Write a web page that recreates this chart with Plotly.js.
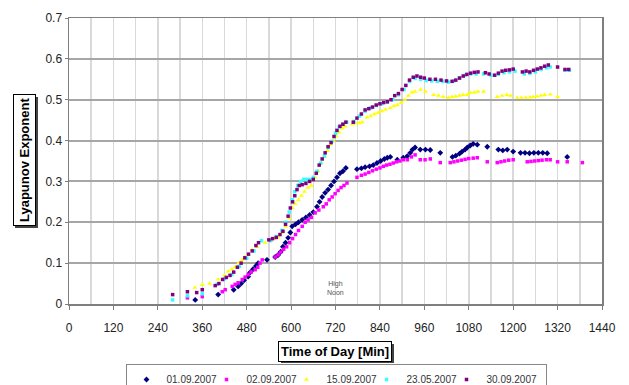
<!DOCTYPE html>
<html>
<head>
<meta charset="utf-8">
<script src="https://cdn.plot.ly/plotly-3.0.1.min.js"></script>
<style>html,body{margin:0;padding:0;background:#fff;}#chart{width:629px;height:385px;}</style>
</head>
<body>
<div id="chart"></div>
<script>
// ---- data ----
const seriesNames = ["01.09.2007", "02.09.2007", "15.09.2007", "23.05.2007", "30.09.2007"];

const x0109 = [341, 403, 445, 457, 465, 473, 484, 489, 497, 505, 511, 535, 557, 565, 572, 578, 585, 592, 598, 603, 612, 620, 630, 640, 650, 660, 670, 677, 684, 692, 700, 708, 716, 724, 732, 740, 748, 778, 790, 800, 812, 822, 832, 842, 852, 860, 868, 887, 903, 914, 922, 928, 935, 949, 963, 976, 1003, 1036, 1045, 1055, 1062, 1070, 1076, 1084, 1092, 1103, 1130, 1160, 1172, 1184, 1200, 1220, 1232, 1244, 1256, 1268, 1280, 1292, 1346];
const y0109 = [0.01, 0.023, 0.035, 0.043, 0.05, 0.058, 0.067, 0.077, 0.085, 0.093, 0.1, 0.108, 0.115, 0.12, 0.128, 0.14, 0.15, 0.162, 0.175, 0.19, 0.195, 0.2, 0.206, 0.212, 0.218, 0.225, 0.238, 0.25, 0.262, 0.272, 0.28, 0.29, 0.3, 0.31, 0.32, 0.325, 0.333, 0.33, 0.332, 0.335, 0.337, 0.34, 0.345, 0.35, 0.355, 0.358, 0.36, 0.353, 0.358, 0.362, 0.37, 0.378, 0.383, 0.378, 0.378, 0.377, 0.37, 0.36, 0.363, 0.368, 0.373, 0.378, 0.383, 0.388, 0.392, 0.39, 0.385, 0.378, 0.376, 0.378, 0.373, 0.37, 0.37, 0.369, 0.37, 0.37, 0.37, 0.369, 0.36];

const x0209 = [320, 360, 414, 422, 441, 449, 457, 468, 476, 484, 492, 503, 510, 516, 522, 557, 565, 572, 580, 588, 596, 604, 612, 620, 630, 638, 646, 655, 665, 675, 687, 695, 703, 711, 719, 727, 735, 743, 751, 778, 790, 800, 810, 820, 830, 840, 849, 858, 867, 876, 885, 894, 903, 914, 925, 935, 949, 962, 976, 1003, 1030, 1040, 1050, 1060, 1070, 1080, 1092, 1103, 1130, 1157, 1167, 1177, 1188, 1200, 1238, 1248, 1258, 1268, 1278, 1290, 1300, 1320, 1346, 1387];
const y0209 = [0.015, 0.018, 0.03, 0.035, 0.043, 0.048, 0.052, 0.06, 0.066, 0.072, 0.078, 0.084, 0.09, 0.1, 0.108, 0.115, 0.12, 0.127, 0.134, 0.14, 0.15, 0.16, 0.17, 0.18, 0.19, 0.2, 0.206, 0.212, 0.223, 0.23, 0.238, 0.245, 0.255, 0.262, 0.27, 0.278, 0.285, 0.29, 0.296, 0.31, 0.315, 0.318, 0.322, 0.326, 0.33, 0.333, 0.337, 0.34, 0.342, 0.345, 0.348, 0.35, 0.353, 0.353, 0.36, 0.365, 0.353, 0.353, 0.355, 0.346, 0.346, 0.348, 0.35, 0.352, 0.354, 0.356, 0.357, 0.358, 0.348, 0.346, 0.348, 0.35, 0.352, 0.353, 0.348, 0.349, 0.35, 0.351, 0.352, 0.353, 0.353, 0.348, 0.348, 0.346];

const x1509 = [340, 360, 380, 403, 420, 430, 440, 449, 458, 468, 476, 484, 495, 508, 530, 545, 555, 565, 576, 585, 595, 603, 611, 620, 628, 636, 646, 655, 665, 673, 682, 690, 698, 706, 714, 722, 730, 738, 746, 765, 775, 785, 792, 805, 815, 825, 835, 845, 855, 868, 878, 887, 897, 907, 917, 927, 935, 950, 963, 985, 998, 1011, 1025, 1035, 1045, 1055, 1065, 1076, 1084, 1095, 1105, 1120, 1157, 1170, 1183, 1193, 1211, 1222, 1234, 1246, 1254, 1265, 1275, 1285, 1300, 1320];
const y1509 = [0.04, 0.047, 0.05, 0.06, 0.07, 0.08, 0.085, 0.09, 0.1, 0.108, 0.115, 0.12, 0.133, 0.14, 0.15, 0.155, 0.16, 0.163, 0.175, 0.19, 0.21, 0.235, 0.245, 0.255, 0.265, 0.275, 0.285, 0.29, 0.31, 0.325, 0.345, 0.36, 0.375, 0.39, 0.4, 0.41, 0.42, 0.43, 0.435, 0.44, 0.442, 0.443, 0.445, 0.457, 0.46, 0.465, 0.468, 0.472, 0.476, 0.48, 0.485, 0.487, 0.492, 0.5, 0.51, 0.518, 0.52, 0.525, 0.52, 0.512, 0.51, 0.507, 0.505, 0.507, 0.508, 0.51, 0.512, 0.512, 0.517, 0.518, 0.52, 0.52, 0.507, 0.51, 0.512, 0.51, 0.505, 0.505, 0.505, 0.506, 0.507, 0.508, 0.51, 0.512, 0.513, 0.507];

const x2305 = [280, 320, 360, 400, 420, 440, 460, 480, 500, 520, 545, 560, 575, 585, 595, 603, 610, 618, 626, 634, 642, 650, 660, 670, 680, 690, 700, 710, 720, 730, 740, 750, 770, 785, 800, 815, 830, 845, 860, 875, 890, 905, 920, 935, 950, 965, 980, 995, 1010, 1025, 1040, 1055, 1070, 1085, 1100, 1120, 1140, 1160, 1175, 1190, 1205, 1230, 1245, 1260, 1275, 1290, 1300, 1340, 1352];
const y2305 = [0.01, 0.02, 0.025, 0.048, 0.062, 0.072, 0.092, 0.112, 0.13, 0.155, 0.155, 0.165, 0.18, 0.2, 0.225, 0.255, 0.275, 0.29, 0.3, 0.305, 0.305, 0.305, 0.31, 0.325, 0.345, 0.362, 0.383, 0.398, 0.418, 0.433, 0.44, 0.445, 0.447, 0.46, 0.472, 0.48, 0.486, 0.49, 0.494, 0.5, 0.512, 0.525, 0.545, 0.552, 0.55, 0.547, 0.546, 0.545, 0.545, 0.543, 0.546, 0.553, 0.56, 0.563, 0.563, 0.563, 0.56, 0.562, 0.566, 0.568, 0.57, 0.563, 0.565, 0.568, 0.574, 0.578, 0.58, 0.572, 0.572];

const x3009 = [280, 320, 345, 360, 395, 405, 415, 425, 435, 445, 455, 465, 475, 485, 495, 505, 512, 540, 550, 560, 570, 578, 585, 592, 598, 604, 610, 616, 622, 630, 640, 650, 660, 668, 676, 684, 692, 700, 708, 716, 724, 732, 740, 748, 768, 778, 790, 800, 810, 820, 830, 840, 850, 860, 870, 880, 890, 900, 910, 920, 930, 940, 950, 960, 975, 990, 1005, 1020, 1035, 1045, 1055, 1065, 1075, 1085, 1095, 1105, 1125, 1135, 1150, 1160, 1170, 1180, 1190, 1200, 1225, 1235, 1245, 1255, 1265, 1275, 1285, 1295, 1320, 1340, 1350];
const y3009 = [0.023, 0.03, 0.028, 0.035, 0.045, 0.05, 0.06, 0.065, 0.07, 0.078, 0.09, 0.1, 0.113, 0.122, 0.13, 0.143, 0.15, 0.157, 0.16, 0.163, 0.17, 0.178, 0.195, 0.215, 0.235, 0.25, 0.265, 0.28, 0.29, 0.292, 0.295, 0.3, 0.305, 0.32, 0.34, 0.355, 0.37, 0.385, 0.395, 0.41, 0.425, 0.435, 0.44, 0.445, 0.445, 0.455, 0.465, 0.475, 0.478, 0.482, 0.487, 0.49, 0.493, 0.495, 0.5, 0.51, 0.515, 0.525, 0.535, 0.548, 0.555, 0.558, 0.555, 0.553, 0.55, 0.55, 0.548, 0.546, 0.545, 0.548, 0.553, 0.558, 0.562, 0.565, 0.567, 0.568, 0.566, 0.563, 0.56, 0.565, 0.57, 0.572, 0.573, 0.575, 0.568, 0.57, 0.568, 0.572, 0.575, 0.578, 0.582, 0.585, 0.58, 0.574, 0.574];

const xTicks = [0, 120, 240, 360, 480, 600, 720, 840, 960, 1080, 1200, 1320, 1440];
const yTicks = [0, 0.1, 0.2, 0.3, 0.4, 0.5, 0.6, 0.7];

// ---- traces ----
const styles = [
  {color: "#000080", symbol: "diamond", size: 4.5},
  {color: "#ff00ff", symbol: "square", size: 3.5},
  {color: "#ffff00", symbol: "triangle-up", size: 4.5},
  {color: "#33ffff", symbol: "square", size: 3.5},
  {color: "#800080", symbol: "square", size: 3.5}
];
const xs = [x0109, x0209, x1509, x2305, x3009];
const ys = [y0109, y0209, y1509, y2305, y3009];
const traces = seriesNames.map((n, i) => {
  const t = {
    type: "scatter", mode: "markers", name: n,
    x: xs[i], y: ys[i],
    marker: {color: styles[i].color, symbol: styles[i].symbol, size: styles[i].size, line: {width: 0}},
    hoverinfo: "x+y"
  };
  if (i === seriesNames.length - 1) t.legendwidth = 54;
  return t;
});

const FONT = "Liberation Sans, Arial, sans-serif";
const L = 69, R = 27, T = 18, B = 81, W = 629, H = 385;
const pw = W - L - R, ph = H - T - B;
function px2paperX(p) { return (p - L) / pw; }
function px2paperY(p) { return (H - B - p) / ph; }

function boxedTitle(text, x, y, angle, pad) {
  return {xref: "paper", yref: "paper", x: x, y: y, xanchor: "center", yanchor: "middle",
    text: "<b>" + text + "</b>", showarrow: false, textangle: angle, borderpad: pad, borderwidth: 1,
    bgcolor: "#fff", bordercolor: "#000",
    font: {family: FONT, size: 13, color: "#000"}};
}
function shadowRect(x0, y0, x1, y1) {
  return {type: "rect", xref: "paper", yref: "paper", layer: "above",
    x0: px2paperX(x0), x1: px2paperX(x1), y0: px2paperY(y0), y1: px2paperY(y1),
    fillcolor: "#444", line: {width: 0}};
}

const layout = {
  width: W, height: H,
  margin: {l: L, r: R, t: T, b: B, pad: 0, autoexpand: false},
  paper_bgcolor: "#fff", plot_bgcolor: "#fff",
  font: {family: FONT, size: 12, color: "#222"},
  showlegend: true,
  legend: {
    orientation: "h", xref: "paper", yref: "paper",
    x: px2paperX(336), xanchor: "center", y: px2paperY(364), yanchor: "top",
    bordercolor: "#888", borderwidth: 1, bgcolor: "#fff",
    font: {family: FONT, size: 10, color: "#333"},
    itemwidth: 30, entrywidth: 35, tracegroupgap: 0, itemsizing: "trace"
  },
  xaxis: {
    range: [0, 1440], tickvals: xTicks, ticktext: xTicks.map(String),
    showgrid: true, gridcolor: "#d9d9d9", gridwidth: 1.5,
    minor: {dtick: 60, tick0: 0, showgrid: true, gridcolor: "#d9d9d9", gridwidth: 1.5, ticks: ""},
    showline: true, linecolor: "#7f7f7f", linewidth: 1.5, mirror: true,
    ticks: "outside", ticklen: 4, tickcolor: "#7f7f7f", ticklabelstandoff: 8,
    zeroline: false, fixedrange: true,
    tickfont: {family: FONT, size: 12, color: "#222"}
  },
  yaxis: {
    range: [0, 0.7], tickvals: yTicks, ticktext: yTicks.map(v => v === 0 ? "0" : v.toFixed(1)),
    showgrid: true, gridcolor: "#a6a6a6", gridwidth: 2,
    showline: true, linecolor: "#7f7f7f", linewidth: 1.5, mirror: true,
    ticks: "outside", ticklen: 3, tickcolor: "#7f7f7f",
    zeroline: false, fixedrange: true,
    tickfont: {family: FONT, size: 12, color: "#222"}
  },
  shapes: [
    shadowRect(15, 97, 38, 228),
    shadowRect(281, 344, 394, 363)
  ],
  annotations: [
    boxedTitle("Lyapunov Exponent", px2paperX(24), px2paperY(160), -90, 3),
    boxedTitle("Time of Day [Min]", px2paperX(335), px2paperY(351), 0, 2),
    {xref: "x", yref: "y", x: 720, y: 0.04, text: "High<br>Noon", showarrow: false,
     font: {family: FONT, size: 7, color: "#555"}, xanchor: "center", yanchor: "middle"}
  ]
};

Plotly.newPlot("chart", traces, layout, {displayModeBar: false, staticPlot: true});
</script>
</body>
</html>
